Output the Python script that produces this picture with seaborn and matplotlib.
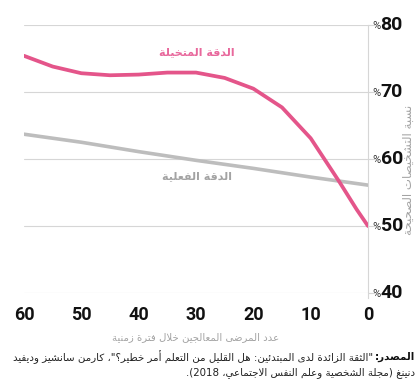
import re
import matplotlib
matplotlib.use("Agg")
import matplotlib.pyplot as plt
import seaborn as sns
import pandas as pd

# ---------------- data ----------------
patients = [60, 55, 50, 45, 40, 35, 30, 25, 20, 15, 10, 5, 2, 0]
imagined = [75.4, 73.8, 72.8, 72.5, 72.6, 72.9, 72.9, 72.1, 70.5, 67.7, 63.1, 56.6, 52.5, 50.0]
actual_x = [60, 50, 40, 30, 20, 10, 0]
actual = [63.7, 62.5, 61.1, 59.8, 58.6, 57.3, 56.1]
x_ticks = [60, 50, 40, 30, 20, 10, 0]
y_ticks = [40, 50, 60, 70, 80]

label_imagined = "الدقة المتخيلة"
label_actual = "الدقة الفعلية"
x_title = "عدد المرضى المعالجين خلال فترة زمنية"
y_title = "نسبة التشخيصات الصحيحة"
src_bold = "المصدر:"
src_line1 = '"الثقة الزائدة لدى المبتدئين: هل القليل من التعلم أمر خطير؟"، كارمن سانشيز وديفيد'
src_line2 = "دنينغ (مجلة الشخصية وعلم النفس الاجتماعي، 2018)."

# ---------------- minimal Arabic shaping ----------------
_two = {0x622, 0x623, 0x624, 0x625, 0x627, 0x629, 0x62F, 0x630, 0x631, 0x632, 0x648, 0x649}
FORMS = {}
_code = 0xFE80
for _c in list(range(0x621, 0x63B)) + list(range(0x641, 0x64B)):
    _n = 1 if _c == 0x621 else (2 if _c in _two else 4)
    FORMS[chr(_c)] = [chr(_code + i) for i in range(_n)]
    _code += _n
LAMALEF = {'آ': ('\uFEF5', '\uFEF6'), 'أ': ('\uFEF7', '\uFEF8'),
           'إ': ('\uFEF9', '\uFEFA'), 'ا': ('\uFEFB', '\uFEFC')}


def shape(s):
    res = []
    prev = False
    i = 0
    n = len(s)
    while i < n:
        ch = s[i]
        if ch in FORMS:
            if ch == 'ل' and i + 1 < n and s[i + 1] in LAMALEF:
                iso, fin = LAMALEF[s[i + 1]]
                res.append(fin if prev else iso)
                prev = False
                i += 2
                continue
            f = FORMS[ch]
            nxt = s[i + 1] if i + 1 < n else ''
            can_next = len(f) == 4 and nxt in FORMS
            if len(f) == 1:
                g = f[0]
            elif prev and can_next:
                g = f[3]
            elif prev:
                g = f[1]
            elif can_next:
                g = f[2]
            else:
                g = f[0]
            res.append(g)
            prev = can_next
        else:
            res.append(ch)
            prev = False
        i += 1
    return ''.join(res)


def ar(s):
    v = shape(s)[::-1]
    v = v.translate(str.maketrans('()', ')('))
    v = re.sub(r'[0-9]+', lambda m: m.group()[::-1], v)
    return v


# ---------------- plot ----------------
sns.set_theme(style="white")
plt.rcParams['font.family'] = ['DejaVu Sans']

PINK = "#e4558a"
PINK_TXT = "#e8689c"
GRAY_LINE = "#bdbdbd"
GRAY_TXT = "#a3a3a3"
GRID = "#d6d6d6"

fig = plt.figure(figsize=(4.2, 3.81), dpi=100)
ax = fig.add_axes([24 / 420, 1 - 293 / 381, (368 - 24) / 420, (293 - 25) / 381])

df_im = pd.DataFrame({"x": patients, "y": imagined})
df_ac = pd.DataFrame({"x": actual_x, "y": actual})
sns.lineplot(data=df_ac, x="x", y="y", ax=ax, color=GRAY_LINE, linewidth=2.6, zorder=3)
sns.lineplot(data=df_im, x="x", y="y", ax=ax, color=PINK, linewidth=2.7, zorder=4)

ax.set_xlim(60, 0)
ax.set_ylim(40, 80)
ax.set_xticks(x_ticks)
ax.set_xticklabels([str(t) for t in x_ticks], fontfamily='Roboto', fontweight='bold',
                   fontsize=13, color='#111111')
ax.set_yticks(y_ticks)
ax.set_yticklabels([])
ax.yaxis.tick_right()
ax.tick_params(axis='x', length=4, width=0.8, color=GRID, pad=5)
ax.tick_params(axis='y', length=5, width=0.8, color=GRID, pad=0)
ax.grid(axis='y', color=GRID, linewidth=0.8)
ax.set_axisbelow(True)
for sp in ['left', 'top', 'bottom']:
    ax.spines[sp].set_visible(False)
ax.spines['right'].set_color(GRID)
ax.spines['right'].set_linewidth(0.8)
ax.spines['right'].set_bounds(39.2, 80)
ax.set_xlabel(ar(x_title), fontsize=7.3, color=GRAY_TXT, labelpad=6)
ax.set_ylabel("")

ytr = ax.get_yaxis_transform()
for t in y_ticks:
    ax.annotate("%", xy=(1, t), xycoords=ytr, xytext=(3, -1), textcoords='offset points',
                ha='left', va='center', fontsize=8, color='#333333', fontfamily='Roboto')
    ax.annotate(str(t), xy=(1, t), xycoords=ytr, xytext=(9, 0), textcoords='offset points',
                ha='left', va='center', fontsize=14, fontweight='bold', color='#111111',
                fontfamily='Roboto')

ax.text(29.8, 76.0, ar(label_imagined), color=PINK_TXT, fontsize=8, fontweight='bold',
        ha='center', va='center')
ax.text(29.8, 57.4, ar(label_actual), color=GRAY_TXT, fontsize=8, fontweight='bold',
        ha='center', va='center')

fig.text(408 / 420, 1 - 170 / 381, ar(y_title), rotation=90, fontsize=8.5, color=GRAY_TXT,
         ha='center', va='center')

# source note
fig.canvas.draw()
r = fig.canvas.get_renderer()
tb = fig.text(415 / 420, 1 - 357 / 381, ar(src_bold), fontsize=7.4, fontweight='bold',
              color='#111111', ha='right', va='center')
bb = tb.get_window_extent(r)
fig.text((bb.x0 - 2) / 420, 1 - 357 / 381, ar(src_line1), fontsize=7.4, color='#222222',
         ha='right', va='center')
fig.text(415 / 420, 1 - 373 / 381, ar(src_line2), fontsize=7.4, color='#222222',
         ha='right', va='center')

fig.savefig("out.png", dpi=100)
